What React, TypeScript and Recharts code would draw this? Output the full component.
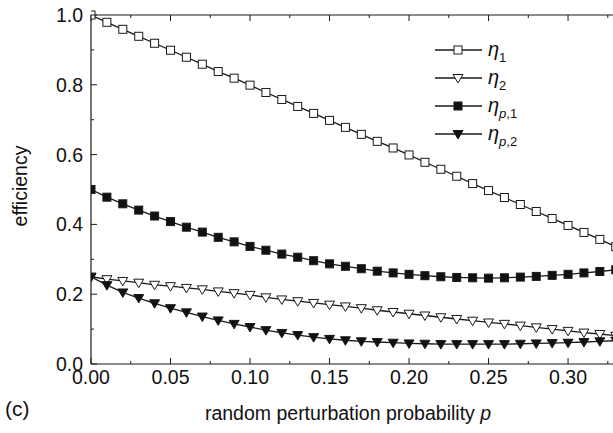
import { Customized, Line, LineChart, XAxis, YAxis } from 'recharts';

const pValues = [
  0, 0.01, 0.02, 0.03, 0.04, 0.05, 0.06, 0.07, 0.08, 0.09,
  0.1, 0.11, 0.12, 0.13, 0.14, 0.15, 0.16, 0.17, 0.18, 0.19,
  0.2, 0.21, 0.22, 0.23, 0.24, 0.25, 0.26, 0.27, 0.28, 0.29,
  0.3, 0.31, 0.32, 0.33,
];

const eta1 = [
  1.0, 0.979, 0.959, 0.939, 0.919, 0.899, 0.879, 0.859, 0.838, 0.819,
  0.799, 0.778, 0.758, 0.738, 0.718, 0.698, 0.678, 0.658, 0.638, 0.619,
  0.599, 0.578, 0.558, 0.538, 0.517, 0.497, 0.477, 0.457, 0.437, 0.417,
  0.397, 0.377, 0.357, 0.336,
];

const eta2 = [
  0.25, 0.243, 0.238, 0.233, 0.227, 0.223, 0.218, 0.214, 0.208, 0.203,
  0.198, 0.191, 0.185, 0.18, 0.175, 0.17, 0.165, 0.16, 0.154, 0.149,
  0.144, 0.139, 0.134, 0.129, 0.124, 0.119, 0.115, 0.11, 0.105, 0.1,
  0.095, 0.09, 0.086, 0.081,
];

const etaP1 = [
  0.5, 0.478, 0.459, 0.441, 0.424, 0.408, 0.392, 0.378, 0.363, 0.35,
  0.337, 0.326, 0.315, 0.306, 0.296, 0.287, 0.28, 0.273, 0.266, 0.261,
  0.257, 0.253, 0.25, 0.248, 0.247, 0.246, 0.247, 0.249, 0.251, 0.254,
  0.257, 0.261, 0.265, 0.27,
];

const etaP2 = [
  0.25, 0.226, 0.205, 0.189, 0.174, 0.16, 0.148, 0.136, 0.125, 0.115,
  0.106, 0.097, 0.089, 0.083, 0.077, 0.072, 0.068, 0.065, 0.063, 0.061,
  0.059, 0.058, 0.057, 0.057, 0.057, 0.057, 0.057, 0.058, 0.059, 0.06,
  0.061, 0.063, 0.065, 0.067,
];

const xTicks = [
  0, 0.025, 0.05, 0.075, 0.1, 0.125, 0.15, 0.175, 0.2, 0.225, 0.25, 0.275, 0.3, 0.325,
];
const yTicks = [0, 0.1, 0.2, 0.3, 0.4, 0.5, 0.6, 0.7, 0.8, 0.9, 1.0];

const data = pValues.map((p, i) => ({
  p,
  eta1: eta1[i],
  eta2: eta2[i],
  etaP1: etaP1[i],
  etaP2: etaP2[i],
}));

const INK = '#1a1a1a';
const FONT = 'Liberation Sans, Arial, sans-serif';

type Marker = 'square' | 'tri';
const series: { key: string; marker: Marker; filled: boolean; sub: string; subItalic?: boolean }[] = [
  { key: 'eta1', marker: 'square', filled: false, sub: '1' },
  { key: 'eta2', marker: 'tri', filled: false, sub: '2' },
  { key: 'etaP1', marker: 'square', filled: true, sub: ',1', subItalic: true },
  { key: 'etaP2', marker: 'tri', filled: true, sub: ',2', subItalic: true },
];

function MarkerShape({ cx, cy, marker, filled }: { cx: number; cy: number; marker: Marker; filled: boolean }) {
  const fill = filled ? '#111' : '#fff';
  if (marker === 'square') {
    return <rect x={cx - 4} y={cy - 4} width={8} height={8} fill={fill} stroke={INK} strokeWidth={1} />;
  }
  return (
    <polygon
      points={`${cx - 5},${cy - 3.5} ${cx + 5},${cy - 3.5} ${cx},${cy + 5}`}
      fill={fill}
      stroke={INK}
      strokeWidth={1}
    />
  );
}

const isMajorX = (v: number) => Math.round(v * 1000) % 50 === 0;
const isMajorY = (v: number) => Math.round(v * 10) % 2 === 0;

function BottomTick({ x, y, payload }: any) {
  const major = isMajorX(payload.value);
  return (
    <g>
      <line x1={x} y1={y} x2={x} y2={y - (major ? 6 : 3)} stroke={INK} strokeWidth={1} />
      {major && (
        <text x={x} y={y + 20} textAnchor="middle" fontSize={19.5} fontFamily={FONT} fill="#111">
          {payload.value.toFixed(2)}
        </text>
      )}
    </g>
  );
}

function TopTick({ x, y, payload }: any) {
  const major = isMajorX(payload.value);
  return <line x1={x} y1={y} x2={x} y2={y + (major ? 6 : 3)} stroke={INK} strokeWidth={1} />;
}

function LeftTick({ x, y, payload }: any) {
  const major = isMajorY(payload.value);
  return (
    <g>
      <line x1={x} y1={y} x2={x + (major ? 6 : 3)} y2={y} stroke={INK} strokeWidth={1} />
      {major && (
        <text x={x - 8} y={y + 7} textAnchor="end" fontSize={19.5} fontFamily={FONT} fill="#111">
          {payload.value.toFixed(1)}
        </text>
      )}
    </g>
  );
}

function RightTick({ x, y, payload }: any) {
  const major = isMajorY(payload.value);
  return <line x1={x} y1={y} x2={x - (major ? 6 : 3)} y2={y} stroke={INK} strokeWidth={1} />;
}

function LegendBox() {
  return (
    <g transform="translate(430 38)">
      {series.map((s, i) => {
        const cy = 12 + i * 28;
        return (
          <g key={s.key}>
            <line x1={5} y1={cy} x2={52} y2={cy} stroke={INK} strokeWidth={1.3} />
            <MarkerShape cx={28} cy={cy} marker={s.marker} filled={s.filled} />
            <text x={58} y={cy + 6} fontSize={20} fontFamily={FONT} fill="#111">
              <tspan fontStyle="italic">η</tspan>
              <tspan fontSize={13} dy={6}>
                {s.subItalic && <tspan fontStyle="italic">p</tspan>}
                {s.sub}
              </tspan>
            </text>
          </g>
        );
      })}
    </g>
  );
}

function Titles() {
  return (
    <g fontFamily={FONT} fill="#111">
      <text x={348} y={420} textAnchor="middle" fontSize={19.5}>
        random perturbation probability <tspan fontStyle="italic">p</tspan>
      </text>
      <text x={5} y={416} fontSize={21}>
        (c)
      </text>
      <text x={27} y={186} textAnchor="middle" fontSize={19.5} transform="rotate(-90 27 186)">
        efficiency
      </text>
    </g>
  );
}

export default function App() {
  return (
    <div style={{ position: 'absolute', left: 0, top: 0, width: 613, height: 433, overflow: 'hidden', background: '#fff' }}>
      <LineChart width={640} height={433} data={data} margin={{ top: 14, right: 18, bottom: 29, left: 0 }}>
        <XAxis
          dataKey="p"
          type="number"
          domain={[0, 0.3333]}
          allowDataOverflow
          ticks={xTicks}
          interval={0}
          height={40}
          tickSize={0}
          tickMargin={0}
          tickLine={false}
          axisLine={{ stroke: INK, strokeWidth: 1.2 }}
          tick={(p: any) => <BottomTick {...p} />}
        />
        <XAxis
          xAxisId="top"
          orientation="top"
          dataKey="p"
          type="number"
          domain={[0, 0.3333]}
          allowDataOverflow
          ticks={xTicks}
          interval={0}
          height={1}
          tickSize={0}
          tickMargin={0}
          tickLine={false}
          axisLine={{ stroke: INK, strokeWidth: 1.2 }}
          tick={(p: any) => <TopTick {...p} />}
        />
        <YAxis
          type="number"
          domain={[0, 1]}
          ticks={yTicks}
          interval={0}
          width={91}
          tickSize={0}
          tickMargin={0}
          tickLine={false}
          axisLine={{ stroke: INK, strokeWidth: 1.2 }}
          tick={(p: any) => <LeftTick {...p} />}
        />
        <YAxis
          yAxisId="right"
          orientation="right"
          type="number"
          domain={[0, 1]}
          ticks={yTicks}
          interval={0}
          width={1}
          tickSize={0}
          tickMargin={0}
          tickLine={false}
          axisLine={{ stroke: INK, strokeWidth: 1.2 }}
          tick={(p: any) => <RightTick {...p} />}
        />
        {series.map((s) => (
          <Line
            key={s.key}
            dataKey={s.key}
            type="linear"
            stroke={INK}
            strokeWidth={1.3}
            isAnimationActive={false}
            dot={(d: any) => <MarkerShape key={`${s.key}-${d.index}`} cx={d.cx} cy={d.cy} marker={s.marker} filled={s.filled} />}
            activeDot={false}
          />
        ))}
        <Customized component={() => <LegendBox />} />
        <Customized component={() => <Titles />} />
      </LineChart>
    </div>
  );
}
